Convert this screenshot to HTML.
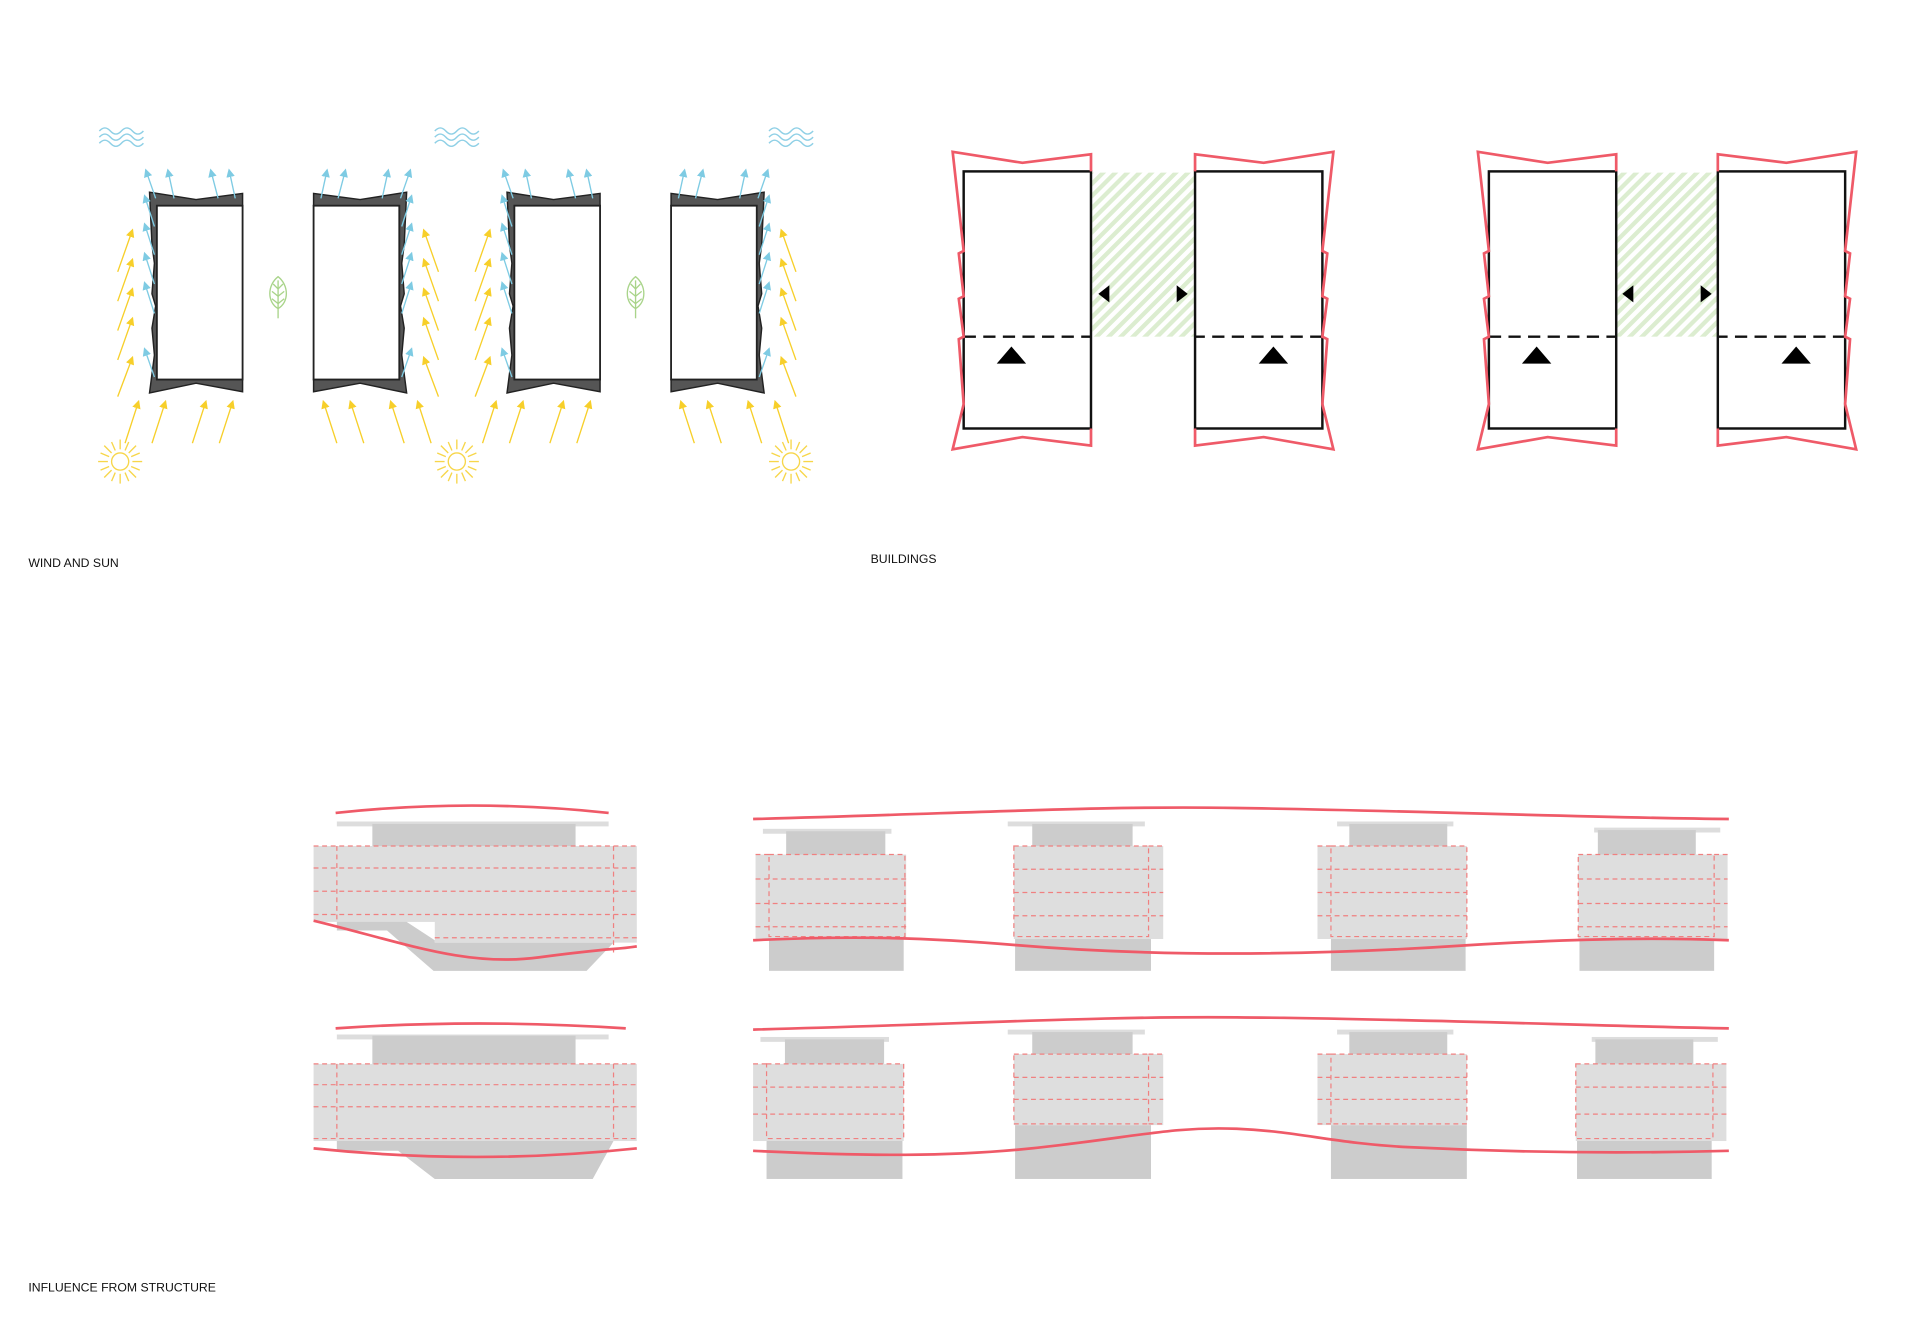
<!DOCTYPE html>
<html><head><meta charset="utf-8"><style>html,body{margin:0;padding:0;background:#fff}svg{display:block}</style></head>
<body>
<svg width="1920" height="1332" viewBox="0 0 1568 1088" xmlns="http://www.w3.org/2000/svg" font-family="Liberation Sans, sans-serif">
<defs>
<marker id="mb" viewBox="0 0 10 10" refX="8" refY="5" markerWidth="7" markerHeight="7" orient="auto" markerUnits="userSpaceOnUse"><path d="M0,0L10,5L0,10z" fill="#7ecbe3"/></marker>
<marker id="my" viewBox="0 0 10 10" refX="8" refY="5" markerWidth="7" markerHeight="7" orient="auto" markerUnits="userSpaceOnUse"><path d="M0,0L10,5L0,10z" fill="#f7cf2a"/></marker>
<pattern id="hatch" width="7" height="7" patternUnits="userSpaceOnUse" patternTransform="rotate(45)"><rect width="7" height="7" fill="#fff"/><rect width="3.5" height="7" fill="#dcedd0"/></pattern>
<g id="wb">
 <path d="M122,157 L160,163 L198,158 L198,168 L128,168 L128,185 L135,185 L135,194 L128,194 L128,209 L135,209 L135,218 L128,218 L128,233 L135,233 L135,242 L128,242 L128,257 L135,257 L135,266 L128,266 L128,310 L198,310 L198,320 L160,313 L122,321 L126,290 L124,268 L127,250 L124,240 L126,215 L124,200 Z" fill="#555" stroke="#222" stroke-width="1.2"/>
 <rect x="128" y="168" width="70" height="142" fill="#fff" stroke="#222" stroke-width="1.5"/>
 <g stroke="#7ecbe3" stroke-width="1.1" marker-end="url(#mb)">
  <line x1="127" y1="162" x2="119" y2="139"/><line x1="142" y1="162" x2="137" y2="139"/><line x1="178" y1="162" x2="172" y2="139"/><line x1="192" y1="162" x2="187" y2="139"/>
  <line x1="126" y1="185" x2="118" y2="160"/><line x1="126" y1="208" x2="118" y2="183"/><line x1="126" y1="232" x2="118" y2="207"/><line x1="126" y1="256" x2="118" y2="231"/><line x1="126" y1="308" x2="118" y2="285"/>
 </g>
 <g stroke="#f7cf2a" stroke-width="1.1" marker-end="url(#my)">
  <line x1="96" y1="222" x2="108" y2="188"/><line x1="96" y1="246" x2="108" y2="212"/><line x1="96" y1="270" x2="108" y2="236"/><line x1="96" y1="294" x2="108" y2="260"/><line x1="96" y1="324" x2="108" y2="292"/>
  <line x1="102" y1="362" x2="113" y2="328"/><line x1="124" y1="362" x2="135" y2="328"/><line x1="157" y1="362" x2="168" y2="328"/><line x1="179" y1="362" x2="190" y2="328"/>
 </g>
</g>
<g id="wave" fill="none" stroke="#8fd0e6" stroke-width="1.2">
 <path d="M-18,-5 q4.5,-5 9,0 t9,0 t9,0 t9,0"/><path d="M-18,0 q4.5,-5 9,0 t9,0 t9,0 t9,0"/><path d="M-18,5 q4.5,-5 9,0 t9,0 t9,0 t9,0"/>
</g>
<g id="sun" stroke="#f7d64a" stroke-width="1.1" fill="none">
 <circle r="7"/>
 <g><line x1="10" y1="0" x2="18" y2="0"/><line x1="-10" y1="0" x2="-18" y2="0"/><line x1="0" y1="10" x2="0" y2="18"/><line x1="0" y1="-10" x2="0" y2="-18"/>
 <line x1="7" y1="7" x2="13" y2="13"/><line x1="-7" y1="7" x2="-13" y2="13"/><line x1="7" y1="-7" x2="13" y2="-13"/><line x1="-7" y1="-7" x2="-13" y2="-13"/>
 <line x1="9" y1="4" x2="16" y2="7"/><line x1="-9" y1="4" x2="-16" y2="7"/><line x1="9" y1="-4" x2="16" y2="-7"/><line x1="-9" y1="-4" x2="-16" y2="-7"/>
 <line x1="4" y1="9" x2="7" y2="16"/><line x1="-4" y1="9" x2="-7" y2="16"/><line x1="4" y1="-9" x2="7" y2="-16"/><line x1="-4" y1="-9" x2="-7" y2="-16"/></g>
</g>
<g id="leaf" fill="none" stroke="#a9d48a" stroke-width="1.1">
 <path d="M0,-15 C9,-8 9,6 0,11 C-9,6 -9,-8 0,-15Z"/><line x1="0" y1="-12" x2="0" y2="19"/>
 <path d="M0,-5 l-4,-4 M0,-5 l4,-4 M0,1 l-5,-4 M0,1 l5,-4 M0,7 l-5,-4 M0,7 l5,-4"/>
</g>
<g id="bl">
 <rect x="787" y="140" width="104" height="210" fill="#fff" stroke="#111" stroke-width="2"/>
 <line x1="787" y1="275" x2="891" y2="275" stroke="#111" stroke-width="2" stroke-dasharray="10,6"/>
 <path d="M891,140 L891,126 L835,133 L778,124 L787,205 L783,207 L787,242 L783,244 L787,275 L783,277 L787,330 L778,367 L835,357 L891,364 L891,350" fill="none" stroke="#ef5a68" stroke-width="2.2"/>
</g>
</defs>

<use href="#wb"/>
<use href="#wb" transform="translate(454,0) scale(-1,1)"/>
<use href="#wb" transform="translate(292,0)"/>
<use href="#wb" transform="translate(746,0) scale(-1,1)"/>
<use href="#wave" x="99" y="112"/><use href="#wave" x="373" y="112"/><use href="#wave" x="646" y="112"/>
<use href="#sun" x="98" y="377"/><use href="#sun" x="373" y="377"/><use href="#sun" x="646" y="377"/>
<use href="#leaf" x="227" y="241"/><use href="#leaf" x="519" y="241"/>
<text x="23" y="463" font-size="10" fill="#111">WIND AND SUN</text>

<rect x="892" y="141" width="83" height="134" fill="url(#hatch)"/>
<rect x="1321" y="141" width="81" height="134" fill="url(#hatch)"/>
<use href="#bl"/>
<use href="#bl" transform="translate(1867,0) scale(-1,1)"/>
<use href="#bl" transform="translate(429,0)"/>
<use href="#bl" transform="translate(2294,0) scale(-1,1)"/>
<g fill="#000">
 <path d="M826,283 L838,297 L814,297Z"/><path d="M1040,283 L1052,297 L1028,297Z"/>
 <path d="M1255,283 L1267,297 L1243,297Z"/><path d="M1467,283 L1479,297 L1455,297Z"/>
 <path d="M897,240 L906,233 L906,247Z"/><path d="M970,240 L961,233 L961,247Z"/>
 <path d="M1325,240 L1334,233 L1334,247Z"/><path d="M1398,240 L1389,233 L1389,247Z"/>
</g>
<text x="711" y="460" font-size="10" fill="#111">BUILDINGS</text>

<g>
 <rect x="275" y="671" width="222" height="4" fill="#ddd"/>
 <rect x="304" y="673" width="166" height="19" fill="#ccc"/>
 <path d="M275,748 L355,748 L355,770 L501,770 L479,793 L354,793 L316,760 L275,760Z" fill="#ccc"/>
 <path d="M256,691 L520,691 L520,770 L355,770 L355,753 L256,753Z" fill="#dedede"/>
 <path d="M332,753 L355,753 L355,768Z" fill="#fff"/>
 <g fill="none" stroke="#f08080" stroke-width="1" stroke-dasharray="4,3">
  <line x1="256" y1="691" x2="520" y2="691"/><line x1="256" y1="709" x2="520" y2="709"/><line x1="256" y1="728" x2="520" y2="728"/><line x1="256" y1="747" x2="520" y2="747"/><line x1="355" y1="766" x2="520" y2="766"/>
  <line x1="275" y1="691" x2="275" y2="753"/><line x1="501" y1="691" x2="501" y2="778"/>
 </g>
 <path d="M274,664 Q385,652 497,664" fill="none" stroke="#ef5a68" stroke-width="2.2"/>
 <path d="M256,752 C330,770 380,790 440,782 S500,776 520,773" fill="none" stroke="#ef5a68" stroke-width="2.2"/>

 <rect x="275" y="845" width="222" height="4" fill="#ddd"/>
 <rect x="304" y="846" width="166" height="24" fill="#ccc"/>
 <path d="M275,932 L501,932 L484,963 L355,963 L325,940 L275,940Z" fill="#ccc"/>
 <rect x="256" y="869" width="264" height="63" fill="#dedede"/>
 <g fill="none" stroke="#f08080" stroke-width="1" stroke-dasharray="4,3">
  <line x1="256" y1="869" x2="520" y2="869"/><line x1="256" y1="886" x2="520" y2="886"/><line x1="256" y1="904" x2="520" y2="904"/><line x1="256" y1="930" x2="520" y2="930"/>
  <line x1="275" y1="869" x2="275" y2="932"/><line x1="501" y1="869" x2="501" y2="932"/>
 </g>
 <path d="M274,840 Q390,832 511,840" fill="none" stroke="#ef5a68" stroke-width="2.2"/>
 <path d="M256,938 Q390,952 520,938" fill="none" stroke="#ef5a68" stroke-width="2.2"/>
</g>

<g>
 <rect x="623" y="677" width="105" height="4" fill="#ddd"/><rect x="642" y="679" width="81" height="20" fill="#ccc"/>
 <rect x="628" y="767" width="110" height="26" fill="#ccc"/><rect x="617" y="698" width="123" height="69" fill="#dedede"/>
 <rect x="823" y="671" width="112" height="4" fill="#ddd"/><rect x="843" y="673" width="82" height="18" fill="#ccc"/>
 <rect x="829" y="767" width="111" height="26" fill="#ccc"/><rect x="828" y="691" width="122" height="76" fill="#dedede"/>
 <rect x="1092" y="671" width="95" height="4" fill="#ddd"/><rect x="1102" y="673" width="80" height="18" fill="#ccc"/>
 <rect x="1087" y="767" width="110" height="26" fill="#ccc"/><rect x="1076" y="691" width="122" height="76" fill="#dedede"/>
 <rect x="1302" y="676" width="103" height="4" fill="#ddd"/><rect x="1305" y="678" width="80" height="20" fill="#ccc"/>
 <rect x="1290" y="767" width="110" height="26" fill="#ccc"/><rect x="1289" y="698" width="122" height="69" fill="#dedede"/>
 <g fill="none" stroke="#f08080" stroke-width="1" stroke-dasharray="4,3">
  <rect x="628" y="698" width="111" height="67"/><line x1="617" y1="698" x2="628" y2="698"/><line x1="617" y1="718" x2="740" y2="718"/><line x1="617" y1="738" x2="740" y2="738"/><line x1="617" y1="757" x2="740" y2="757"/>
  <rect x="828" y="691" width="110" height="74"/><line x1="938" y1="691" x2="950" y2="691"/><line x1="828" y1="710" x2="950" y2="710"/><line x1="828" y1="729" x2="950" y2="729"/><line x1="828" y1="748" x2="950" y2="748"/>
  <rect x="1087" y="691" width="111" height="74"/><line x1="1076" y1="691" x2="1087" y2="691"/><line x1="1076" y1="710" x2="1198" y2="710"/><line x1="1076" y1="729" x2="1198" y2="729"/><line x1="1076" y1="748" x2="1198" y2="748"/>
  <rect x="1289" y="698" width="111" height="67"/><line x1="1400" y1="698" x2="1411" y2="698"/><line x1="1289" y1="718" x2="1411" y2="718"/><line x1="1289" y1="738" x2="1411" y2="738"/><line x1="1289" y1="757" x2="1411" y2="757"/>
 </g>
</g>
<path d="M615,669 C800,664 900,658 1010,660 C1150,662 1300,668 1412,669" fill="none" stroke="#ef5a68" stroke-width="2.2"/>
<path d="M615,768 C700,764 760,766 830,772 C950,782 1080,780 1200,772 C1300,766 1360,766 1412,768" fill="none" stroke="#ef5a68" stroke-width="2.2"/>

<g>
 <rect x="621" y="847" width="105" height="4" fill="#ddd"/><rect x="641" y="849" width="81" height="20" fill="#ccc"/>
 <rect x="626" y="932" width="111" height="31" fill="#ccc"/><rect x="615" y="869" width="123" height="63" fill="#dedede"/>
 <rect x="823" y="841" width="112" height="4" fill="#ddd"/><rect x="843" y="843" width="82" height="18" fill="#ccc"/>
 <rect x="829" y="919" width="111" height="44" fill="#ccc"/><rect x="828" y="861" width="122" height="58" fill="#dedede"/>
 <rect x="1092" y="841" width="95" height="4" fill="#ddd"/><rect x="1102" y="843" width="80" height="18" fill="#ccc"/>
 <rect x="1087" y="919" width="111" height="44" fill="#ccc"/><rect x="1076" y="861" width="122" height="58" fill="#dedede"/>
 <rect x="1300" y="847" width="103" height="4" fill="#ddd"/><rect x="1303" y="849" width="80" height="20" fill="#ccc"/>
 <rect x="1288" y="932" width="110" height="31" fill="#ccc"/><rect x="1287" y="869" width="123" height="63" fill="#dedede"/>
 <g fill="none" stroke="#f08080" stroke-width="1" stroke-dasharray="4,3">
  <rect x="626" y="869" width="112" height="61"/><line x1="615" y1="869" x2="626" y2="869"/><line x1="615" y1="888" x2="738" y2="888"/><line x1="615" y1="910" x2="738" y2="910"/>
  <rect x="828" y="861" width="110" height="57"/><line x1="938" y1="861" x2="950" y2="861"/><line x1="828" y1="880" x2="950" y2="880"/><line x1="828" y1="898" x2="950" y2="898"/><line x1="938" y1="918" x2="950" y2="918"/>
  <rect x="1087" y="861" width="111" height="57"/><line x1="1076" y1="861" x2="1087" y2="861"/><line x1="1076" y1="880" x2="1198" y2="880"/><line x1="1076" y1="898" x2="1198" y2="898"/><line x1="1076" y1="918" x2="1087" y2="918"/>
  <rect x="1287" y="869" width="112" height="61"/><line x1="1399" y1="869" x2="1410" y2="869"/><line x1="1287" y1="888" x2="1410" y2="888"/><line x1="1287" y1="910" x2="1410" y2="910"/>
 </g>
</g>
<path d="M615,841 C800,836 900,830 1010,831 C1150,832 1300,838 1412,840" fill="none" stroke="#ef5a68" stroke-width="2.2"/>
<path d="M615,940 C700,944 780,946 860,936 C930,928 960,920 1010,922 C1060,924 1090,934 1150,937 C1250,942 1340,942 1412,940" fill="none" stroke="#ef5a68" stroke-width="2.2"/>

<text x="23" y="1055" font-size="10" fill="#111">INFLUENCE FROM STRUCTURE</text>
</svg>
</body></html>
